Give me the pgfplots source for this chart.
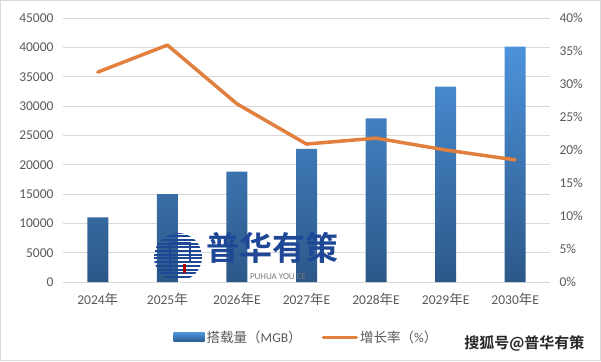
\documentclass[border=0pt]{standalone}
\usepackage{pgfplots}
\pgfplotsset{compat=1.18}
\usepackage{fontspec}
\setmainfont{Carlito}
\newfontfamily\cjk{Noto Sans CJK SC}
\newfontfamily\cjkb{Noto Sans CJK SC Bold}
\definecolor{txt}{RGB}{89,89,89}
\definecolor{gridc}{RGB}{217,217,217}
\definecolor{bartop}{RGB}{76,146,218}
\definecolor{barbot}{RGB}{44,88,136}
\definecolor{lineor}{RGB}{225,128,62}
\definecolor{logob}{RGB}{30,72,150}
\begin{document}
\begin{tikzpicture}[x=1pt,y=1pt]
\draw[gridc,line width=1pt] (0.5,0.5) rectangle (600.5,360.5);
\begin{axis}[
  at={(63pt,79pt)}, anchor=south west,
  scale only axis, width=487pt, height=264pt,
  xmin=-0.5, xmax=6.5, ymin=0, ymax=45000,
  ytick={0,5000,...,45000},
  xtick={0,...,6},
  xticklabels={2024{\cjk 年},2025{\cjk 年},2026{\cjk 年}E,2027{\cjk 年}E,2028{\cjk 年}E,2029{\cjk 年}E,2030{\cjk 年}E},
  axis line style={draw=none},
  major tick length=0pt,
  ymajorgrids, grid style={gridc,line width=1pt},
  tick label style={txt,font=\fontsize{13.5}{15}\selectfont},
  /pgf/number format/assume math mode=true,
  scaled y ticks=false,
  yticklabel={\pgfmathprintnumber[fixed,precision=0,1000 sep={}]{\tick}},
  yticklabel style={xshift=-6pt},
  xticklabel style={yshift=-8pt},
]
\addplot[ybar, bar width=21pt, draw=none, top color=bartop, bottom color=barbot, shading angle=0]
 coordinates {(0,11000) (1,15000) (2,18800) (3,22700) (4,27900) (5,33300) (6,40100)};
\end{axis}
\node[font=\cjkb\fontsize{33}{36}\selectfont, text=logob, anchor=center] at (272pt,113pt) {普华有策};
\node[font=\fontsize{9}{10}\selectfont, text=txt!80, anchor=center] at (278pt,84pt) {PUHUA YOU CE};
\begin{scope}
\clip (178pt,104pt) circle (24pt);
\foreach \k in {0,...,12} {\fill[logob] (150pt,{83pt+\k*3.7pt}) rectangle (210pt,{85pt+\k*3.7pt});}
\end{scope}
\draw[logob,line width=2.5pt] (170pt,90pt) -- (170pt,118pt) -- (190pt,118pt) -- (190pt,100pt);
\fill[red!70!black] (183pt,88pt) rectangle (186pt,97pt);
\begin{axis}[
  at={(63pt,79pt)}, anchor=south west,
  scale only axis, width=487pt, height=264pt,
  xmin=-0.5, xmax=6.5, ymin=0, ymax=40,
  axis x line=none, axis y line*=right,
  axis line style={draw=none},
  ytick={0,5,...,40},
  yticklabel={\pgfmathprintnumber{\tick}\%},
  major tick length=0pt,
  tick label style={txt,font=\fontsize{13.5}{15}\selectfont},
  /pgf/number format/assume math mode=true,
  yticklabel style={xshift=6pt},
  legend columns=2,
  legend style={at={(0.5,-0.21)}, anchor=center, draw=none, fill=none,
    font=\fontsize{13.5}{15}\selectfont, text=txt,
    /tikz/every even column/.append style={column sep=18pt}},
]
\addlegendimage{legend image code/.code={\shade[draw=none,top color=bartop,bottom color=barbot] (0pt,-4.5pt) rectangle (31pt,4.5pt);}}
\addlegendentry{{\cjk 搭载量（}MGB{\cjk ）}}
\addplot[lineor, line width=3.5pt, line join=round, line cap=round, mark=none,
  legend image code/.code={\draw[lineor,line width=3.5pt,line cap=round] (0pt,0pt) -- (33pt,0pt);}]
 coordinates {(0,31.8) (1,35.9) (2,27.0) (3,20.9) (4,21.8) (5,20.0) (6,18.5)};
\addlegendentry{{\cjk 增长率（}\%{\cjk ）}}
\end{axis}
\node[font=\cjkb\fontsize{15}{17}\selectfont, text=black!85, anchor=east] at (588pt,18pt) {搜狐号@普华有策};
\end{tikzpicture}
\end{document}
